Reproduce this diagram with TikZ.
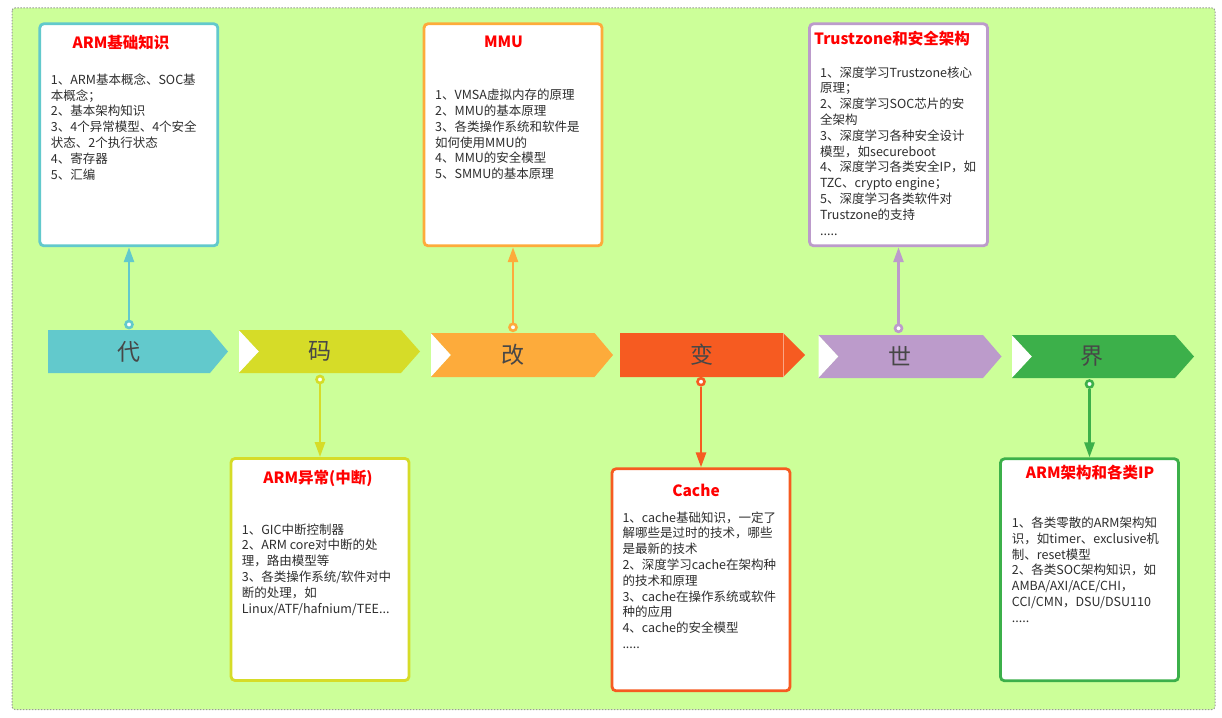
\documentclass[tikz,border=0pt]{standalone}
\usepackage{fontspec}
\setmainfont{Noto Sans CJK SC}
\usetikzlibrary{arrows.meta}
\definecolor{bgreen}{HTML}{CCFF99}
\definecolor{cdai}{HTML}{62C9CC}
\definecolor{cma}{HTML}{D6DC28}
\definecolor{cgai}{HTML}{FDAB3B}
\definecolor{cbian}{HTML}{F65B21}
\definecolor{cshi}{HTML}{BC9BCB}
\definecolor{cjie}{HTML}{3CB04A}
\definecolor{txtgray}{HTML}{2E2E2E}
\tikzstyle{infobox}=[draw, rounded corners=4pt, line width=2.8pt, fill=white, minimum width=178pt, minimum height=222pt, inner sep=0pt]
\tikzstyle{title}=[text=red, font=\fontsize{15.5}{18}\selectfont\bfseries, inner sep=0pt]
\tikzstyle{body}=[text=txtgray, font=\fontsize{12.5}{15.8}\selectfont, align=left, anchor=north west, inner sep=0pt]
\tikzstyle{word}=[text=black!72, font=\fontsize{23}{25}\selectfont, inner sep=0pt]
\tikzstyle{dot}=[circle, draw, line width=2.6pt, fill=white, minimum size=7pt, inner sep=0pt]
\tikzstyle{link}=[line width=2.6pt, -{Triangle[length=15pt,width=10pt]}]

\begin{document}
\begin{tikzpicture}[x=1pt,y=-1pt]
      \useasboundingbox (0,0) rectangle (1222,717);
      \draw[gray!80, fill=bgreen, line width=1pt, dash pattern=on 1.5pt off 1.5pt, rounded corners=3pt] (12,8) rectangle (1215,709.5);

      % arrow row
      \fill[cdai] (48,330) -- (210,330) -- (228,351.5) -- (210,373) -- (48,373) -- cycle;
      \fill[white] (239,330) -- (259,351.5) -- (239,373) -- cycle;
      \fill[cma] (239,330) -- (401,330) -- (420,351.5) -- (401,373) -- (239,373) -- (259,351.5) -- cycle;
      \fill[white] (431,333) -- (451,355) -- (431,377) -- cycle;
      \fill[cgai] (431,333) -- (594.5,333) -- (613,355) -- (594.5,377) -- (431,377) -- (451,355) -- cycle;
      \fill[cbian] (620,333) -- (783,333) -- (805,355) -- (783,377) -- (620,377) -- cycle;
      \draw[cbian!55!white, line width=0.8pt] (783,333) -- (783,377);
      \fill[white] (818.5,335) -- (838.5,356.5) -- (818.5,378) -- cycle;
      \fill[cshi] (818.5,335) -- (983,335) -- (1001.5,356.5) -- (983,378) -- (818.5,378) -- (838.5,356.5) -- cycle;
      \fill[white] (1012,335) -- (1032,356.5) -- (1012,378) -- cycle;
      \fill[cjie] (1012,335) -- (1175,335) -- (1194,356.5) -- (1175,378) -- (1012,378) -- (1032,356.5) -- cycle;

      \node[word] (dai) at (129,351.5) {代};
      \node[word] (ma) at (320,351.5) {码};
      \node[word] (gai) at (513,355) {改};
      \node[word] (bian) at (701.5,355) {变};
      \node[word] (shi) at (900,356.5) {世};
      \node[word] (jie) at (1092,356.5) {界};

      % boxes
      \node[infobox, draw=cdai] (b1) at (128.8,134.8) {};
      \node[title] (t1) at (121,42.3) {ARM基础知识};
      \node[body] (x1) at (50.7,73.3) {1、ARM基本概念、SOC基\\本概念；\\2、基本架构知识\\3、4个异常模型、4个安全\\状态、2个执行状态\\4、寄存器\\5、汇编};

      \node[infobox, draw=cgai] (b2) at (513,134.8) {};
      \node[title] (t2) at (503.5,42.3) {MMU};
      \node[body] (x2) at (435,89) {1、VMSA虚拟内存的原理\\2、MMU的基本原理\\3、各类操作系统和软件是\\如何使用MMU的\\4、MMU的安全模型\\5、SMMU的基本原理};

      \node[infobox, draw=cshi] (b3) at (898.5,134.8) {};
      \node[title] (t3) at (892,39) {Trustzone和安全架构};
      \node[body] (x3) at (820,66.3) {1、深度学习Trustzone核心\\原理；\\2、深度学习SOC芯片的安\\全架构\\3、深度学习各种安全设计\\模型，如secureboot\\4、深度学习各类安全IP，如\\TZC、crypto engine；\\5、深度学习各类软件对\\Trustzone的支持\\.....};

      \node[infobox, draw=cma] (b4) at (320,569.5) {};
      \node[title] (t4) at (318,478.3) {ARM异常(中断)};
      \node[body] (x4) at (241.7,523.3) {1、GIC中断控制器\\2、ARM core对中断的处\\理，路由模型等\\3、各类操作系统/软件对中\\断的处理，如\\Linux/ATF/hafnium/TEE...};

      \node[infobox, draw=cbian] (b5) at (701,579.8) {};
      \node[title] (t5) at (696,490) {Cache};
      \node[body] (x5) at (622.3,511.3) {1、cache基础知识，一定了\\解哪些是过时的技术，哪些\\是最新的技术\\2、深度学习cache在架构种\\的技术和原理\\3、cache在操作系统或软件\\种的应用\\4、cache的安全模型\\.....};

      \node[infobox, draw=cjie] (b6) at (1089.5,569.8) {};
      \node[title] (t6) at (1090,472.7) {ARM架构和各类IP};
      \node[body] (x6) at (1011.7,516.7) {1、各类零散的ARM架构知\\识，如timer、exclusive机\\制、reset模型\\2、各类SOC架构知识，如\\AMBA/AXI/ACE/CHI，\\CCI/CMN，DSU/DSU110\\.....};

      % connectors
      \node[dot, draw=cdai] (d1) at (129,324.5) {};
      \node[dot, draw=cma] (d2) at (320,379.5) {};
      \node[dot, draw=cgai] (d3) at (513,327.3) {};
      \node[dot, draw=cbian] (d4) at (701,381.7) {};
      \node[dot, draw=cshi] (d5) at (898.5,328.3) {};
      \node[dot, draw=cjie] (d6) at (1089.5,384) {};
      \draw[link, cdai] (d1) -- (d1 |- b1.south);
      \draw[link, cma] (d2) -- (d2 |- b4.north);
      \draw[link, cgai] (d3) -- (d3 |- b2.south);
      \draw[link, cbian] (d4) -- (d4 |- b5.north);
      \draw[link, cshi] (d5) -- (d5 |- b3.south);
      \draw[link, cjie] (d6) -- (d6 |- b6.north);
    \end{tikzpicture}
\end{document}
